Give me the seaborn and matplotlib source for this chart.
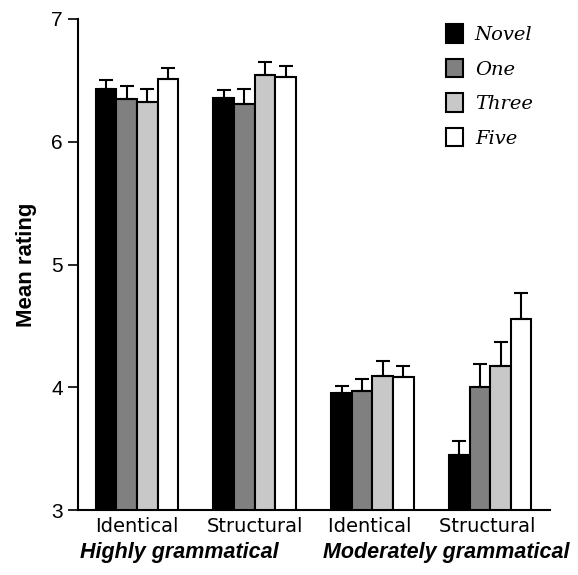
import matplotlib
matplotlib.use("Agg")
import matplotlib.pyplot as plt
import seaborn as sns
import pandas as pd

# ----------------------------
# DATA
# ----------------------------
conditions = ["Identical", "Structural", "Identical ", "Structural "]
groups = ["Highly grammatical", "Moderately grammatical"]
levels = ["Novel", "One", "Three", "Five"]

novel = [6.43, 6.36, 3.95, 3.45]
one = [6.35, 6.31, 3.97, 4.00]
three = [6.32, 6.54, 4.09, 4.17]
five = [6.51, 6.53, 4.08, 4.56]

err_novel = [0.07, 0.06, 0.06, 0.11]
err_one = [0.10, 0.12, 0.10, 0.19]
err_three = [0.11, 0.11, 0.12, 0.20]
err_five = [0.09, 0.09, 0.09, 0.21]

colors = ["#000000", "#808080", "#c8c8c8", "#ffffff"]

rows = []
for lev, vals, errs in zip(levels, [novel, one, three, five],
                           [err_novel, err_one, err_three, err_five]):
    for c, v, e in zip(conditions, vals, errs):
        rows.append({"Condition": c, "Level": lev, "Rating": v, "Err": e})
df = pd.DataFrame(rows)

# ----------------------------
# PLOT
# ----------------------------
sns.set_style("ticks")
plt.rcParams["text.color"] = "black"
plt.rcParams["axes.labelcolor"] = "black"
plt.rcParams["xtick.color"] = "black"
plt.rcParams["ytick.color"] = "black"
plt.rcParams["axes.edgecolor"] = "black"

fig = plt.figure(figsize=(5.78, 5.75), dpi=100)
ax = fig.add_axes([0.135, 0.113, 0.817, 0.854])

sns.barplot(data=df, x="Condition", y="Rating", hue="Level",
            order=conditions, hue_order=levels, palette=colors,
            edgecolor="black", linewidth=1.5, width=0.7,
            errorbar=None, ax=ax)

# error bars (upper only), positioned on the drawn bars
for lev, container in zip(levels, ax.containers):
    sub = df[df["Level"] == lev].set_index("Condition").loc[conditions]
    xs = [p.get_x() + p.get_width() / 2 for p in container.patches]
    ax.errorbar(xs, sub["Rating"], yerr=[[0] * len(xs), sub["Err"]],
                fmt="none", ecolor="black", elinewidth=1.5,
                capsize=5, capthick=1.5, zorder=1)

ax.set_ylim(3, 7)
ax.set_yticks([3, 4, 5, 6, 7])
ax.set_xlim(-0.5, 3.51)
ax.set_xlabel("")
ax.set_ylabel("Mean rating", fontsize=16, fontweight="bold",
              family="Liberation Sans", labelpad=10)
ax.tick_params(axis="x", length=0, labelsize=14, pad=5)
ax.tick_params(axis="y", length=7, width=1.2, labelsize=15, pad=4)
for lab in ax.get_xticklabels():
    lab.set_family("DejaVu Sans")
for lab in ax.get_yticklabels():
    lab.set_family("Liberation Sans")
for s in ["top", "right"]:
    ax.spines[s].set_visible(False)
ax.spines["left"].set_linewidth(1.5)
ax.spines["bottom"].set_linewidth(1.5)

# group labels
ax.text(0.36, -0.086, groups[0], transform=ax.get_xaxis_transform(),
        ha="center", va="center", fontsize=15.5, fontweight="bold",
        style="italic", family="Liberation Sans")
ax.text(2.63, -0.086, groups[1], transform=ax.get_xaxis_transform(),
        ha="center", va="center", fontsize=15.5, fontweight="bold",
        style="italic", family="Liberation Sans")

leg = ax.legend(loc="upper right", bbox_to_anchor=(1.0, 1.025), frameon=False,
                handlelength=0.9, handleheight=1.1, handletextpad=0.6,
                labelspacing=0.75,
                prop={"family": "DejaVu Serif", "style": "italic", "size": 14})

plt.savefig("out.png", dpi=100)
